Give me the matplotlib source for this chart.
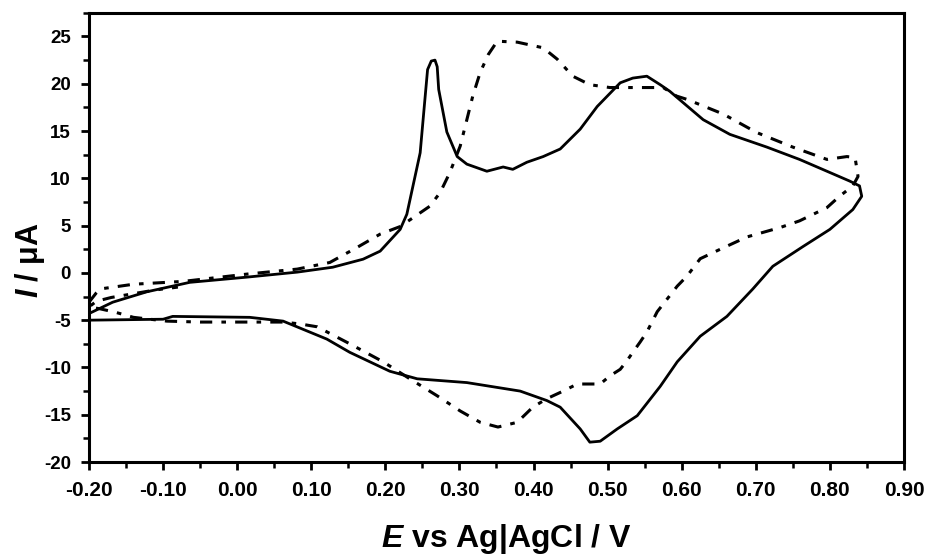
import matplotlib
matplotlib.use("Agg")
import matplotlib.pyplot as plt
import numpy as np
from matplotlib.ticker import MultipleLocator, FormatStrFormatter

plt.rcParams['font.family'] = ['Liberation Sans', 'DejaVu Sans']
plt.rcParams['font.weight'] = 'bold'
plt.rcParams['mathtext.fontset'] = 'custom'
plt.rcParams['mathtext.it'] = 'Liberation Sans:italic:bold'
plt.rcParams['mathtext.rm'] = 'Liberation Sans:bold'

# solid curve: potential (V) and current (uA), one full cycle
solid_E = [-0.200, -0.168, -0.122, -0.064, 0.013, 0.081, 0.129, 0.170, 0.193, 0.220,
           0.229, 0.247, 0.253, 0.257, 0.262, 0.267, 0.270, 0.272, 0.283, 0.297,
           0.310, 0.337, 0.359, 0.372, 0.391, 0.413, 0.436, 0.463, 0.486, 0.517,
           0.534, 0.553, 0.571, 0.584, 0.629, 0.665, 0.715, 0.759, 0.796, 0.827,
           0.840, 0.843, 0.831, 0.800, 0.764, 0.723, 0.696, 0.661, 0.625, 0.594,
           0.571, 0.540, 0.513, 0.490, 0.476, 0.463, 0.436, 0.418, 0.382, 0.310,
           0.243, 0.206, 0.152, 0.121, 0.062, 0.017, -0.087, -0.100, -0.200]
solid_I = [-4.3, -3.1, -2.0, -1.0, -0.45, 0.08, 0.6, 1.45, 2.3, 4.6,
           6.2, 12.7, 18.0, 21.5, 22.4, 22.5, 21.8, 19.4, 14.9, 12.3,
           11.5, 10.75, 11.2, 10.95, 11.7, 12.3, 13.1, 15.2, 17.6, 20.1,
           20.6, 20.8, 19.9, 19.2, 16.2, 14.65, 13.3, 12.0, 10.75, 9.7,
           9.2, 8.1, 6.7, 4.6, 2.8, 0.7, -1.7, -4.6, -6.7, -9.4,
           -12.0, -15.1, -16.5, -17.8, -17.9, -16.5, -14.2, -13.5, -12.5, -11.6,
           -11.2, -10.4, -8.4, -7.0, -5.1, -4.7, -4.6, -4.9, -5.0]

# dash-dot curve: potential (V) and current (uA)
dash_E = [-0.200, -0.190, -0.185, -0.140, -0.073, 0.013, 0.081, 0.125, 0.162, 0.193,
          0.220, 0.260, 0.274, 0.287, 0.301, 0.310, 0.318, 0.328, 0.339, 0.351,
          0.378, 0.413, 0.432, 0.453, 0.476, 0.503, 0.575, 0.593, 0.607, 0.656,
          0.701, 0.750, 0.796, 0.823, 0.834, 0.838, 0.831, 0.813, 0.796, 0.759,
          0.733, 0.688, 0.652, 0.625, 0.607, 0.594, 0.575, 0.567, 0.553, 0.544,
          0.534, 0.526, 0.517, 0.503, 0.490, 0.459, 0.440, 0.418, 0.399, 0.378,
          0.352, 0.328, 0.301, 0.270, 0.233, 0.197, 0.152, 0.108, 0.085, 0.062,
          0.017, -0.050, -0.095, -0.140, -0.165, -0.185, -0.200, -0.190, -0.170,
          -0.140, -0.110, -0.080]
dash_I = [-3.1, -2.1, -1.7, -1.2, -0.9, -0.13, 0.4, 1.1, 2.7, 4.1,
          4.9, 7.05, 8.5, 10.6, 13.4, 16.2, 18.7, 21.2, 23.1, 24.5,
          24.4, 23.8, 22.6, 20.8, 19.9, 19.6, 19.6, 18.7, 18.35, 16.8,
          14.85, 13.3, 12.0, 12.3, 12.2, 10.2, 9.2, 8.1, 6.9, 5.5,
          4.8, 3.8, 2.5, 1.5, -0.35, -1.4, -3.3, -4.1, -6.25, -7.3,
          -8.4, -9.3, -10.2, -10.9, -11.75, -11.75, -12.5, -13.3, -14.2, -15.8,
          -16.3, -15.8, -14.6, -13.0, -11.2, -9.4, -7.5, -5.7, -5.4, -5.2,
          -5.2, -5.2, -5.1, -4.7, -4.15, -3.8, -3.6, -3.0, -2.6,
          -2.2, -1.8, -1.5]

x_ticks = np.arange(-0.2, 0.91, 0.1)
y_ticks = np.arange(-20, 26, 5)

fig = plt.figure(figsize=(9.28, 5.58), dpi=100)
ax = fig.add_axes([0.0959, 0.172, 0.8782, 0.805])

ax.plot(solid_E, solid_I, color='black', lw=2.0, solid_joinstyle='round')
ax.plot(dash_E, dash_I, color='black', lw=2.2, linestyle=(0, (4, 3, 1.5, 3)))

ax.set_xlim(-0.2, 0.9)
ax.set_ylim(-20, 27.5)
ax.set_xticks(x_ticks)
ax.set_yticks(y_ticks)
ax.xaxis.set_minor_locator(MultipleLocator(0.05))
ax.yaxis.set_minor_locator(MultipleLocator(2.5))
ax.xaxis.set_major_formatter(FormatStrFormatter('%.2f'))
ax.yaxis.set_major_formatter(FormatStrFormatter('%d'))

for sp in ax.spines.values():
    sp.set_linewidth(2.2)
ax.tick_params(which='major', direction='out', length=6, width=2)
ax.tick_params(which='minor', direction='out', length=4, width=1.8)
ax.tick_params(axis='x', which='major', labelsize=15, pad=8)
ax.tick_params(axis='y', which='major', labelsize=13.5, pad=7)
for lab in ax.get_xticklabels() + ax.get_yticklabels():
    lab.set_fontweight('bold')

ax.set_xlabel(r'$\mathit{E}$ vs Ag|AgCl / V', fontsize=23, fontweight='bold')
ax.set_ylabel(r'$\mathit{I}$ / μA', fontsize=22, fontweight='bold')
ax.xaxis.set_label_coords(0.512, -0.133)
ax.yaxis.set_label_coords(-0.052, 0.45)

fig.savefig('out.png', dpi=100)
